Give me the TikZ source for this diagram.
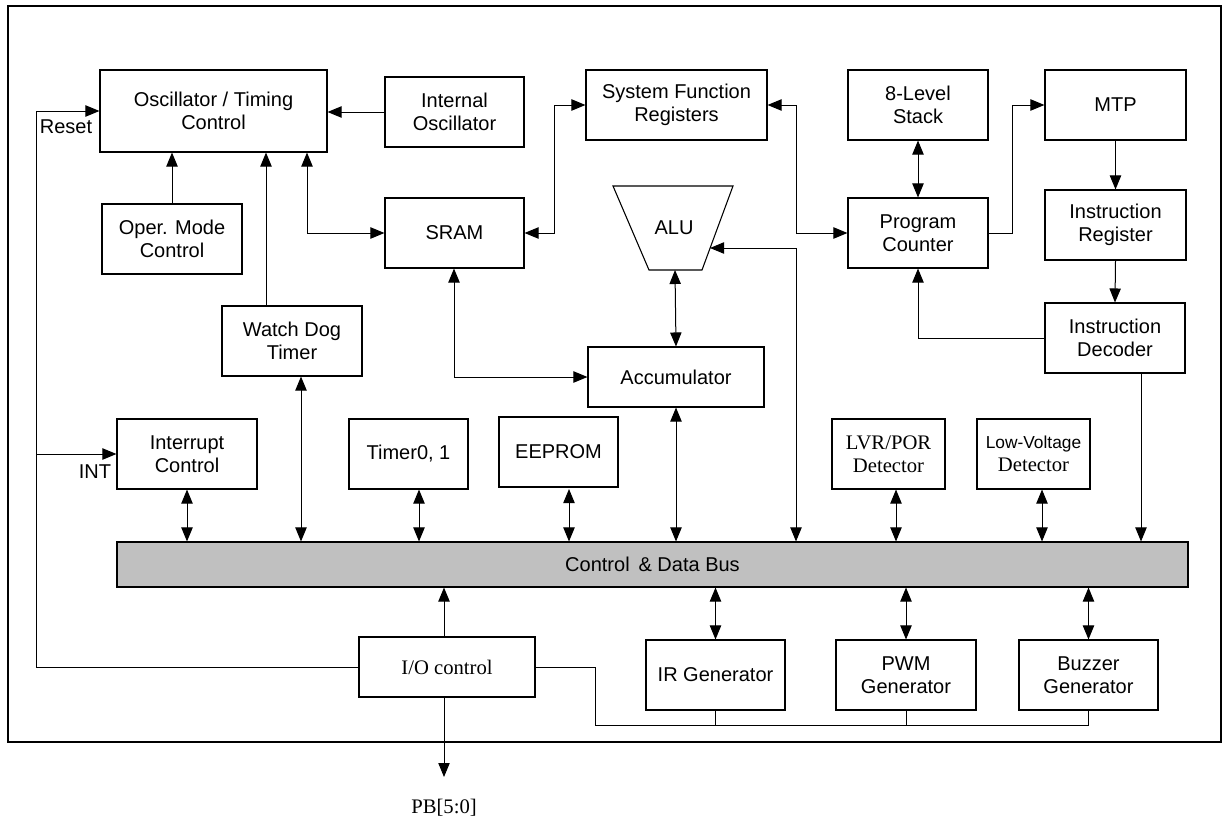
\documentclass[tikz,border=0pt]{standalone}
\usepackage{fontspec}
\setmainfont{Liberation Sans}
\newfontfamily\serifrm{Liberation Serif}
\usetikzlibrary{arrows.meta}
\definecolor{busgray}{RGB}{192,192,192}
\tikzset{every node/.style={font=\fontsize{15}{17}\selectfont},
  blk/.style={draw, line width=0.8pt, align=center, inner sep=0pt},
  wh/.style 2 args={minimum width=#1*0.75pt, minimum height=#2*0.75pt},
  arr/.style={-{Triangle[length=10.5pt,width=8.5pt]}},
  darr/.style={{Triangle[length=10.5pt,width=8.5pt]}-{Triangle[length=10.5pt,width=8.5pt]}},
  lbl/.style={inner sep=0pt}}
\begin{document}
\begin{tikzpicture}[x=0.75pt,y=-0.75pt,line width=0.75pt]
  \useasboundingbox (0,0) rectangle (1224,817);
  \draw[line width=2.2pt] (8,6) rectangle (1221,742);
  % upper blocks
  \node[blk,wh={227}{82}] (osc) at (213.5,111) {Oscillator / Timing\\Control};
  \node[blk,wh={139}{70}] (iosc) at (454.5,112) {Internal\\Oscillator};
  \node[blk,wh={140}{70}] (oper) at (172,239) {Oper. Mode\\Control};
  \node[blk,wh={139}{70}] (sram) at (454.5,233) {SRAM};
  \node[blk,wh={181}{70}] (sfr) at (676.5,105) {System Function\\Registers};
  \node[blk,wh={140}{70}] (stack) at (918,105) {8-Level\\Stack};
  \node[blk,wh={141}{70}] (mtp) at (1115.5,105) {MTP};
  \node[blk,wh={140}{70}] (pc) at (918,233) {Program\\Counter};
  \node[blk,wh={141}{70}] (ir) at (1115.5,225) {Instruction\\Register};
  \node[blk,wh={140}{70}] (idec) at (1115,338) {Instruction\\Decoder};
  \node[blk,wh={140}{70}] (wdt) at (292,341) {Watch Dog\\Timer};
  \node[blk,wh={176}{60}] (acc) at (676,377) {Accumulator};
  % ALU
  \draw[line width=0.8pt] (613,186) -- (733,186) -- (702,270) -- (649,270) -- cycle;
  \node (alu) at (674,228) {ALU};
  \coordinate (alur) at (710,248);
  \coordinate (alub) at (675,270);
  % peripherals
  \node[blk,wh={140}{70}] (intc) at (187,454) {Interrupt\\Control};
  \node[blk,wh={119}{70}] (timer) at (408.5,454) {Timer0, 1};
  \node[blk,wh={119}{70}] (eeprom) at (558.5,452) {EEPROM};
  \node[blk,wh={113}{70},font=\serifrm\fontsize{15.5}{17.5}\selectfont] (lvr) at (888.5,454) {LVR/POR\\Detector};
  \node[blk,wh={113}{70},font=\fontsize{13}{17.5}\selectfont] (lowv) at (1033.5,454) {Low-Voltage\\{\serifrm\fontsize{15.5}{17.5}\selectfont Detector}};
  \node[blk,wh={1071}{45},fill=busgray] (bus) at (652.5,564.5) {Control \,\& Data Bus};
  \node[blk,wh={176}{60},font=\serifrm\fontsize{15.5}{17.5}\selectfont] (io) at (447,667) {I/O control};
  \node[blk,wh={139}{70}] (irg) at (715.5,675) {IR Generator};
  \node[blk,wh={140}{70}] (pwm) at (906,675) {PWM\\Generator};
  \node[blk,wh={139}{70}] (buzz) at (1088.5,675) {Buzzer\\Generator};
  \node[lbl] (reset) at (66,127) {Reset};
  \node[lbl] (int) at (95,472) {INT};
  \node[lbl,font=\serifrm\fontsize{15.5}{17.5}\selectfont] (pb) at (444,808) {PB[5:0]};
  \coordinate (pbend) at (444,777);
  % connections
  \draw[arr] (iosc.west) -- (osc.east |- iosc.west);
  \draw[arr] (oper.north) -- (oper.north |- osc.south);
  \draw[arr] (266,0 |- wdt.north) -- (266,0 |- osc.south);
  \draw[darr] (307,0 |- osc.south) |- (sram.west);
  \draw[darr] (sram.east) -- (554,0 |- sram.east) |- (sfr.west);
  \draw[darr] (sfr.east) -- (796,0 |- sfr.east) |- (pc.west);
  \draw[darr] (alur) -- (796,248) -- (796,0 |- bus.north);
  \draw[darr] (stack.south) -- (pc.north);
  \draw[arr] (pc.east) -- (1012,0 |- pc.east) |- (mtp.west);
  \draw[arr] (mtp.south) -- (ir.north);
  \draw[arr] (ir.south) -- (idec.north);
  \draw[arr] (idec.west) -| (pc.south);
  \draw[arr] (1141,0 |- idec.south) -- (1141,0 |- bus.north);
  \draw[darr] (alub) -- (acc.north);
  \draw[darr] (454,0 |- sram.south) |- (acc.west);
  \draw[darr] (acc.south) -- (acc.south |- bus.north);
  \draw[darr] (301,0 |- wdt.south) -- (301,0 |- bus.north);
  \draw[arr] (io.west) -- (36,0 |- io.west) -- (36,0 |- osc.west) -- (osc.west);
  \draw[arr] (36,0 |- intc.west) -- (intc.west);
  \draw[darr] (intc.south) -- (intc.south |- bus.north);
  \draw[darr] (419,0 |- timer.south) -- (419,0 |- bus.north);
  \draw[darr] (569,489) -- (569,0 |- bus.north);
  \draw[darr] (896,0 |- lvr.south) -- (896,0 |- bus.north);
  \draw[darr] (1042,0 |- lowv.south) -- (1042,0 |- bus.north);
  \draw[arr] (444,0 |- io.north) -- (444,0 |- bus.south);
  \draw[arr] (444,0 |- io.south) -- (pbend);
  \draw[darr] (irg.north) -- (irg.north |- bus.south);
  \draw[darr] (pwm.north) -- (pwm.north |- bus.south);
  \draw[darr] (buzz.north) -- (buzz.north |- bus.south);
  \draw (io.east) -- (595,0 |- io.east) -- (595,725) -| (buzz.south);
  \draw (irg.south) -- (irg.south |- 0,725);
  \draw (pwm.south) -- (pwm.south |- 0,725);
\end{tikzpicture}
\end{document}
